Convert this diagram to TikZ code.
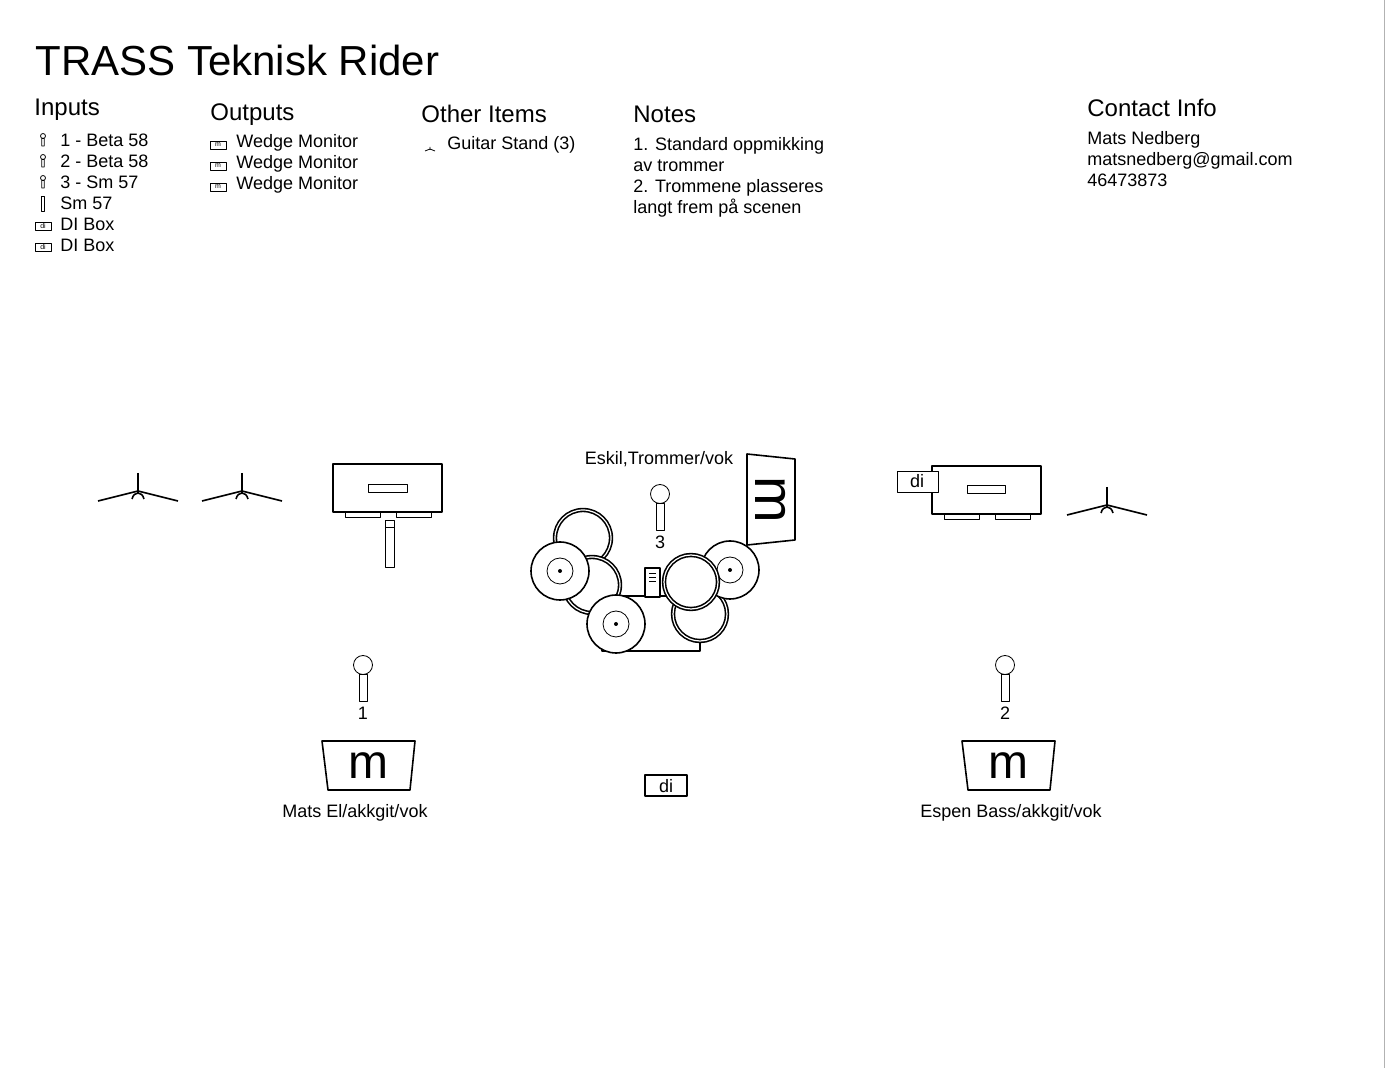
\documentclass[tikz,border=0pt]{standalone}
\usepackage{fontspec}
\setmainfont{Liberation Sans}
\usepackage{tikz}
\usetikzlibrary{positioning}

\tikzset{
  txt/.style={font=\fontsize{9}{10.5}\selectfont, inner sep=0pt},
  head/.style={font=\fontsize{12}{14}\selectfont, anchor=base west, inner sep=0pt},
  drum/.style={draw, thick, fill=white},
  shell/.style={draw, thick, double=white, double distance=0.6pt, fill=white},
}
\newcommand{\ministand}[2]{\draw[thin] (#1-5,#2+2) -- (#1,#2) -- (#1+5,#2+2) (#1,#2-2) -- (#1,#2+1);}
\newcommand{\minibox}[3]{\draw[thin] (#1-8,#2-4) rectangle (#1+8,#2+4);
  \node[font=\fontsize{3.5}{4}\selectfont, inner sep=0pt] at (#1,#2) {#3};}
\newcommand{\minimic}[2]{\draw[thin] (#1,#2-4) circle (2.5) (#1-1.2,#2-1.5) rectangle (#1+1.2,#2+6);}

\begin{document}
\begin{tikzpicture}[x=0.5pt, y=-0.5pt, line join=round]
\useasboundingbox (0,0) rectangle (1386,1068);
\draw[gray!60] (1384,0) -- (1384,1068);

% header
\node[font=\fontsize{21}{24}\selectfont, anchor=base west, inner sep=0pt] (title) at (35,76) {TRASS Teknisk Rider};
\node[head] (inputs) at (34,116) {Inputs};
\node[head] (outputs) at (210,121) {Outputs};
\node[head] (other) at (421,123) {Other Items};
\node[head] (notes) at (633,123) {Notes};
\node[head] (contact) at (1087,117) {Contact Info};

% inputs list
\foreach \y/\t in {140/1 - Beta 58, 161/2 - Beta 58, 182/3 - Sm 57}{
  \minimic{43}{\y}
  \node[txt, anchor=west] at (60,\y) {\t};
}
\draw[thin] (41.8,196) rectangle (44.2,211);
\node[txt, anchor=west] at (60,203) {Sm 57};
\foreach \y in {224,245}{
  \minibox{43}{\y+2}{di}
  \node[txt, anchor=west] at (60,\y) {DI Box};
}
% outputs list
\foreach \y in {143,164,185}{
  \minibox{218}{\y+2}{m}
  \node[txt, anchor=west] at (236,\y) {Wedge Monitor};
}
\ministand{430}{149}
\node[txt, anchor=west] (stands) at (447,145) {Guitar Stand (3)};

\node[txt, anchor=north west, align=left] (notetext) at (633,137)
  {1. Standard oppmikking\\av trommer\\2. Trommene plasseres\\langt frem på scenen};
\node[txt, anchor=north west, align=left] (contacttext) at (1087,131)
  {Mats Nedberg\\matsnedberg@gmail.com\\46473873};

% guitar stands
\foreach \x/\y in {138/491, 242/491, 1107/505}{
  \draw[thick] (\x-40,\y+10) -- (\x,\y) -- (\x+40,\y+10);
  \draw[thick] (\x,\y-18) -- (\x,\y+2);
  \draw[thick] (\x-6,\y+8) .. controls (\x-4,\y) and (\x+4,\y) .. (\x+6,\y+8);
}

% left amp with sm57
\draw[thick] (333,464) rectangle (442,512);
\draw (368,484) rectangle (407,492);
\draw (345,512) rectangle (380,517) (396,512) rectangle (431,517);
\draw (385,520) rectangle (394,567) (385,527) -- (394,527);

% right amp with di
\draw[thick] (932,466) rectangle (1041,514);
\draw (967,485) rectangle (1005,493);
\draw (944,514) rectangle (979,519) (995,514) rectangle (1030,519);
\draw[fill=white] (897,471) rectangle (938,492);
\node[font=\fontsize{9}{10}\selectfont, inner sep=0pt] (diamp) at (917,481) {di};

% drums
\node[txt, anchor=south] (eskil) at (659,467) {Eskil,Trommer/vok};
\draw[thick] (602,596) rectangle (700,651);
\draw[shell] (583,538) circle (28);
\draw[shell] (592,585) circle (28);
\draw[drum] (560,571) circle (29);
\draw (560,571) circle (13); \fill (560,571) circle (2);
\draw[thick, fill=white] (645,568) rectangle (660,597);
\foreach \yy in {573,577,581} \draw (649,\yy) -- (656,\yy);
\draw[shell] (700,614) circle (27);
\draw[drum] (730,570) circle (29);
\draw (730,570) circle (13); \fill (730,570) circle (2);
\draw[shell] (691,582) circle (27);
\draw[drum] (616,624) circle (29);
\draw (616,624) circle (13); \fill (616,624) circle (2);
\draw[thick] (747,454) -- (795,459) -- (795,540) -- (747,545) -- cycle;
\node[font=\fontsize{28}{30}\selectfont, rotate=-90, inner sep=0pt] (mdrum) at (771,500) {m};

% mics
\foreach \x/\y/\n in {363/665/1, 1005/665/2, 660/494/3}{
  \draw (\x,\y) circle (9.5);
  \draw (\x-4,\y+9.5) rectangle (\x+4,\y+36);
  \node[txt] at (\x,\y+48) {\n};
}

% wedges
\foreach \x in {368,1008}{
  \draw[thick] (\x-46,741) -- (\x+47,741) -- (\x+42,790) -- (\x-40,790) -- cycle;
  \node[font=\fontsize{24}{26}\selectfont, inner sep=0pt] at (\x,766) {m};
}
\node[txt] (mats) at (355,813) {Mats El/akkgit/vok};
\node[txt] (espen) at (1011,813) {Espen Bass/akkgit/vok};
\draw[thick] (645,775) rectangle (687,796);
\node[font=\fontsize{9}{10}\selectfont, inner sep=0pt] (difloor) at (666,786) {di};
\end{tikzpicture}
\end{document}
